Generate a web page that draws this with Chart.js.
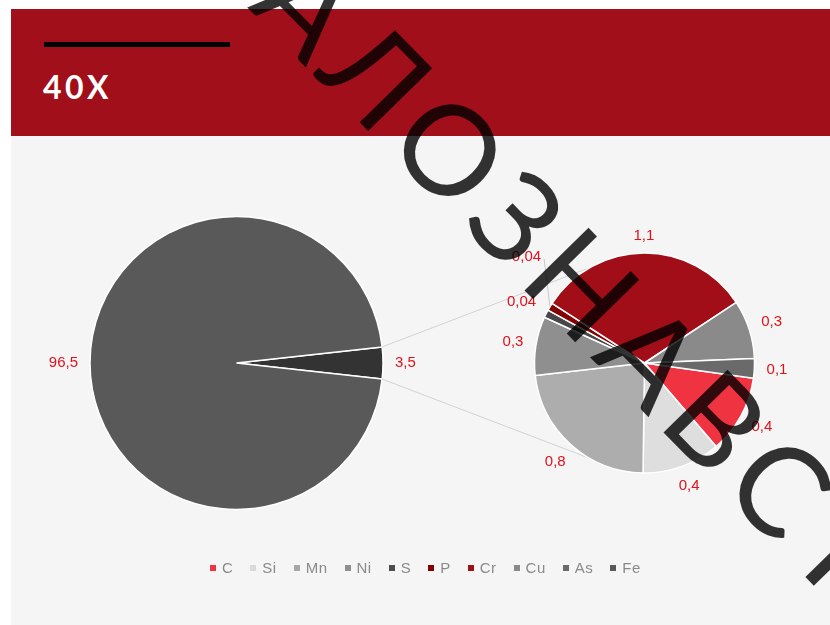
<!DOCTYPE html>
<html><head><meta charset="utf-8">
<script src="https://cdn.jsdelivr.net/npm/chart.js@4.4.1/dist/chart.umd.min.js"></script>
<style>
html,body{margin:0;padding:0;background:#fff;}
#wrap{position:relative;width:830px;height:625px;overflow:hidden;background:#fff;font-family:"Liberation Sans",Arial,sans-serif;}
#bg{position:absolute;left:11px;top:136px;width:819px;height:489px;background:#f5f5f5;}
#band{position:absolute;left:11px;top:9px;width:819px;height:127px;background:#a00f1a;}
#rule{position:absolute;left:44px;top:42px;width:186px;height:5px;background:#000;}
#title{position:absolute;left:43px;top:67px;color:#fff;font:700 32px Lato,"Liberation Sans",sans-serif;letter-spacing:3.5px;}
canvas{position:absolute;left:0;top:0;}
#legend{position:absolute;top:559px;left:210px;display:flex;align-items:center;gap:17px;font:15px "Liberation Sans",Arial,sans-serif;color:#8a8a8a;letter-spacing:0.5px;}
#legend .it{display:flex;align-items:center;gap:6px;}
#legend .sw{width:6px;height:6px;display:inline-block;}
</style></head>
<body>
<div id="wrap">
  <div id="bg"></div>
  <div id="band"></div>
  <div id="rule"></div>
  <div id="title">40Х</div>
  <canvas id="c1" width="830" height="625"></canvas>
  <canvas id="c2" width="830" height="625"></canvas>
  <div id="legend"></div>
  <canvas id="wm" width="830" height="625"></canvas>
</div>
<script>
// ---- data ----
const mainLabels = ['Other', 'Fe'];
const mainValues = [3.5, 96.5];
const mainColors = ['#333333', '#595959'];

const subLabels = ['C', 'Si', 'Mn', 'Ni', 'S', 'P', 'Cr', 'Cu', 'As'];
const subValues = [0.4, 0.4, 0.8, 0.3, 0.04, 0.04, 1.1, 0.3, 0.1];
const subColors = ['#ef3340', '#dedede', '#adadad', '#8f8f8f', '#474747', '#850000', '#a10e18', '#8a8a8a', '#6a6a6a'];

const legendLabels = ['C', 'Si', 'Mn', 'Ni', 'S', 'P', 'Cr', 'Cu', 'As', 'Fe'];
const legendColors = ['#ef3340', '#d9d9d9', '#a6a6a6', '#8f8f8f', '#4d4d4d', '#850000', '#a10e18', '#8a8a8a', '#6a6a6a', '#595959'];

const watermarkText = 'МАТЕРІАЛОЗНАВСТВО';

// ---- helpers ----
const LABEL_COLOR = '#e0121c';
const LABEL_FONT = '15px "Liberation Sans", Arial, sans-serif';
const fmt = v => String(v).replace('.', ',');

const labelPlugin = {
  id: 'sliceLabels',
  afterDatasetsDraw(chart) {
    const ctx = chart.ctx;
    const meta = chart.getDatasetMeta(0);
    const ds = chart.data.datasets[0];
    ctx.save();
    ctx.font = LABEL_FONT;
    ctx.textAlign = 'center';
    ctx.textBaseline = 'middle';
    const placed = [];
    const h = 11, gap = 12, shift = 36;
    meta.data.forEach((arc, i) => {
      const p = arc.getProps(['x', 'y', 'startAngle', 'endAngle', 'outerRadius'], true);
      const mid = (p.startAngle + p.endAngle) / 2;
      const c = Math.cos(mid), s = Math.sin(mid);
      const txt = fmt(ds.data[i]);
      const w = ctx.measureText(txt).width;
      const d = p.outerRadius + gap + Math.abs(c) * w / 2 + Math.abs(s) * h / 2;
      let lx = p.x + c * d, ly = p.y + s * d;
      let moved = false;
      const hit = () => placed.some(b => Math.abs(b.x - lx) < (b.w + w) / 2 && Math.abs(b.y - ly) < h + 2);
      if (hit()) { ly -= shift; moved = true; }
      placed.push({ x: lx, y: ly, w });
      if (moved) {
        ctx.strokeStyle = '#c8c8c8';
        ctx.lineWidth = 1;
        ctx.beginPath();
        ctx.moveTo(lx + w / 2 + 3, ly + 2);
        ctx.lineTo(p.x + c * p.outerRadius, p.y + s * p.outerRadius);
        ctx.stroke();
      }
      ctx.fillStyle = LABEL_COLOR;
      ctx.fillText(txt, lx, ly);
    });
    ctx.restore();
  }
};

Chart.defaults.animation = false;

const otherShare = mainValues[0] / mainValues.reduce((a, b) => a + b, 0) * 360;

const chart1 = new Chart(document.getElementById('c1'), {
  type: 'pie',
  data: { labels: mainLabels, datasets: [{ data: mainValues, backgroundColor: mainColors, borderColor: '#ffffff', borderWidth: 1.5, hoverOffset: 0 }] },
  options: {
    responsive: false, animation: false,
    rotation: 90 - otherShare / 2,
    radius: 146.5,
    layout: { padding: { left: 86, right: 443, top: 212, bottom: 111 } },
    plugins: { legend: { display: false }, tooltip: { enabled: false } },
    events: []
  },
  plugins: [labelPlugin]
});

const connectorPlugin = {
  id: 'connectors',
  beforeDatasetsDraw(chart) {
    const m = chart1.getDatasetMeta(0).data[0].getProps(['x', 'y', 'startAngle', 'endAngle', 'outerRadius'], true);
    const s = chart.getDatasetMeta(0).data[0].getProps(['x', 'y', 'outerRadius'], true);
    const ctx = chart.ctx;
    const a = 120 * Math.PI / 180;
    ctx.save();
    ctx.strokeStyle = '#d2d2d2';
    ctx.lineWidth = 1;
    ctx.beginPath();
    ctx.moveTo(m.x + m.outerRadius * Math.cos(m.startAngle), m.y + m.outerRadius * Math.sin(m.startAngle));
    ctx.lineTo(s.x + s.outerRadius * Math.cos(-a), s.y + s.outerRadius * Math.sin(-a));
    ctx.moveTo(m.x + m.outerRadius * Math.cos(m.endAngle), m.y + m.outerRadius * Math.sin(m.endAngle));
    ctx.lineTo(s.x + s.outerRadius * Math.cos(a), s.y + s.outerRadius * Math.sin(a));
    ctx.stroke();
    ctx.restore();
  }
};

const chart2 = new Chart(document.getElementById('c2'), {
  type: 'pie',
  data: { labels: subLabels, datasets: [{ data: subValues, backgroundColor: subColors, borderColor: '#ffffff', borderWidth: 1.5, hoverOffset: 0 }] },
  options: {
    responsive: false, animation: false,
    rotation: 98,
    radius: 110,
    layout: { padding: { left: 530, right: 71, top: 249, bottom: 148 } },
    plugins: { legend: { display: false }, tooltip: { enabled: false } },
    events: []
  },
  plugins: [connectorPlugin, labelPlugin]
});

// ---- legend ----
const lg = document.getElementById('legend');
legendLabels.forEach((name, i) => {
  const it = document.createElement('span'); it.className = 'it';
  const sw = document.createElement('span'); sw.className = 'sw'; sw.style.background = legendColors[i];
  const tx = document.createElement('span'); tx.textContent = name;
  it.appendChild(sw); it.appendChild(tx); lg.appendChild(it);
});

// ---- watermark ----
(function () {
  const cv = document.getElementById('wm');
  const ctx = cv.getContext('2d');
  ctx.font = '400 125px Lato, "DejaVu Sans", sans-serif';
  const chars = Array.from(watermarkText);
  const wd = chars.map(ch => ctx.measureText(ch).width);
  const capH = ctx.measureText('Н').actualBoundingBoxAscent;
  // anchor letters: 'О' (index 8) and 'С' (index 13)
  const p1 = [450, 150], p2 = [780, 487];
  const ang = Math.atan2(p2[1] - p1[1], p2[0] - p1[0]);
  const dist = Math.hypot(p2[0] - p1[0], p2[1] - p1[1]);
  let nat = wd[8] / 2 + wd[13] / 2; for (let k = 9; k < 13; k++) nat += wd[k];
  const sp = (dist - nat) / 5;
  ctx.save();
  ctx.translate(p1[0], p1[1]);
  ctx.rotate(ang);
  ctx.fillStyle = 'rgba(0,0,0,0.8)';
  let x = -wd[8] / 2;
  for (let k = 7; k >= 0; k--) x -= wd[k] + sp;
  for (let k = 0; k < chars.length; k++) {
    ctx.fillText(chars[k], x, capH / 2);
    x += wd[k] + sp;
  }
  ctx.restore();
})();
</script>
</body></html>
